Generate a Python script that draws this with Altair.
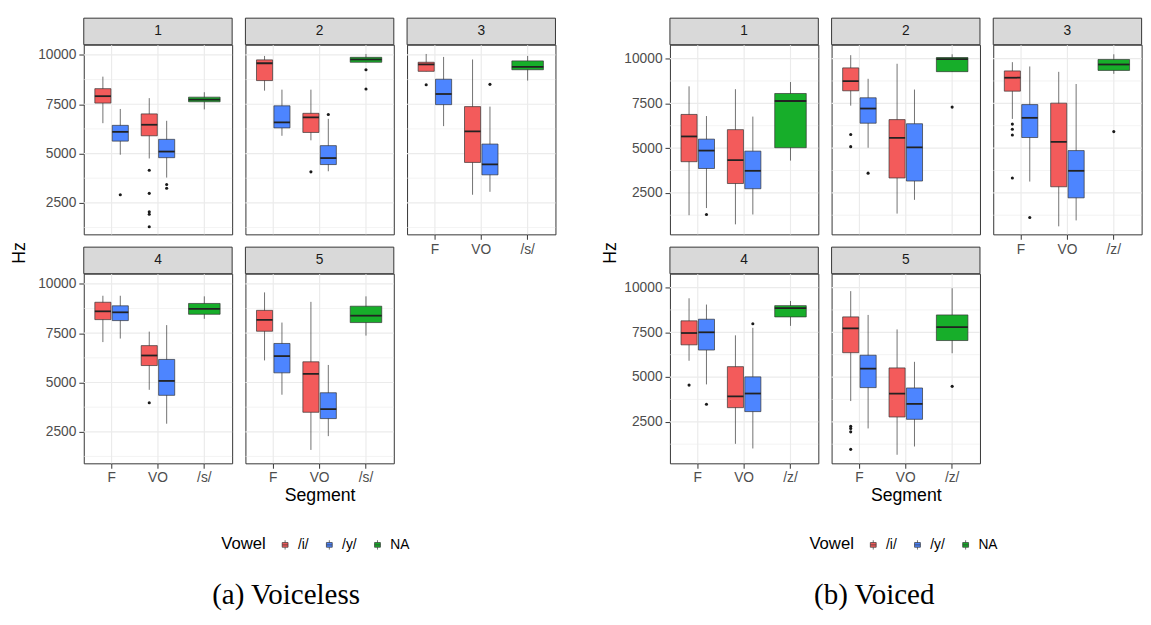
import altair as alt
import pandas as pd

# ---------------- data ----------------
SEGMENTS_VOICELESS = ["F", "VO", "/s/"]
SEGMENTS_VOICED = ["F", "VO", "/z/"]
VOWELS = ["/i/", "/y/", "NA"]
VOWEL_COLORS = ["#F35B5B", "#4D85FF", "#17AE2A"]
PANELS = ["1", "2", "3", "4", "5"]
MAJOR_TICKS = [2500, 5000, 7500, 10000]
MINOR_TICKS = [1250, 3750, 6250, 8750]
Y_DOMAIN_VOICELESS = [900, 10520]
Y_DOMAIN_VOICED = [180, 10775]

# (segment, vowel, lower whisker, Q1, median, Q3, upper whisker)
VOICELESS_1 = [("F", "/i/", 6540, 7560, 7910, 8290, 8900),
               ("F", "/y/", 4940, 5630, 6100, 6430, 7260),
               ("VO", "/i/", 4750, 5900, 6460, 7010, 7810),
               ("VO", "/y/", 3780, 4790, 5100, 5720, 6660),
               ("/s/", "NA", 7240, 7625, 7740, 7860, 8110)]
VOICELESS_2 = [("F", "/i/", 8190, 8700, 9580, 9750, 9950),
               ("F", "/y/", 5900, 6300, 6580, 7420, 8240),
               ("VO", "/i/", 5670, 6070, 6840, 7040, 8240),
               ("VO", "/y/", 4100, 4440, 4770, 5400, 6760),
               ("/s/", "NA", 9630, 9630, 9770, 9880, 10050)]
VOICELESS_3 = [("F", "/i/", 9170, 9170, 9520, 9630, 10050),
               ("F", "/y/", 6390, 7480, 8020, 8770, 9900),
               ("VO", "/i/", 2910, 4550, 6120, 7380, 9770),
               ("VO", "/y/", 3060, 3920, 4450, 5480, 7380),
               ("/s/", "NA", 8700, 9250, 9400, 9700, 9950)]
VOICELESS_4 = [("F", "/i/", 7050, 8190, 8610, 9070, 9400),
               ("F", "/y/", 7230, 8140, 8560, 8890, 9400),
               ("VO", "/i/", 4630, 5860, 6370, 6870, 7580),
               ("VO", "/y/", 2910, 4350, 5080, 6170, 7910),
               ("/s/", "NA", 8230, 8460, 8740, 9010, 9370)]
VOICELESS_5 = [("F", "/i/", 6120, 7600, 8180, 8660, 9570),
               ("F", "/y/", 4380, 5490, 6340, 6980, 8040),
               ("VO", "/i/", 1580, 3490, 5440, 6050, 9090),
               ("VO", "/y/", 2280, 3170, 3650, 4480, 5890),
               ("/s/", "NA", 7380, 8040, 8390, 8870, 9370)]
# (panel, segment, vowel, value)
VOICELESS_OUTLIERS = [("1", "F", "/y/", 2910),
                      ("1", "VO", "/i/", 4150), ("1", "VO", "/i/", 2980),
                      ("1", "VO", "/i/", 2050), ("1", "VO", "/i/", 1920),
                      ("1", "VO", "/i/", 1290),
                      ("1", "VO", "/y/", 3430), ("1", "VO", "/y/", 3240),
                      ("2", "VO", "/i/", 4070), ("2", "VO", "/y/", 6980),
                      ("2", "/s/", "NA", 9250), ("2", "/s/", "NA", 8270),
                      ("3", "F", "/i/", 8490), ("3", "VO", "/y/", 8510),
                      ("4", "VO", "/i/", 3970)]

VOICED_1 = [("F", "/i/", 1250, 4240, 5650, 6880, 8450),
            ("F", "/y/", 1650, 3860, 4860, 5500, 6790),
            ("VO", "/i/", 740, 3020, 4330, 6030, 8290),
            ("VO", "/y/", 1290, 2730, 3730, 4830, 6760),
            ("/z/", "NA", 4300, 5020, 7630, 8050, 8690)]
VOICED_2 = [("F", "/i/", 7370, 8200, 8740, 9480, 10190),
            ("F", "/y/", 5020, 6390, 7210, 7810, 8870),
            ("VO", "/i/", 1340, 3330, 5570, 6590, 9710),
            ("VO", "/y/", 2110, 3160, 5040, 6360, 8270),
            ("/z/", "NA", 9270, 9270, 9970, 10060, 10240)]
VOICED_3 = [("F", "/i/", 6630, 8180, 8930, 9310, 9800),
            ("F", "/y/", 3130, 5590, 6690, 7430, 9560),
            ("VO", "/i/", 630, 2840, 5350, 7510, 9260),
            ("VO", "/y/", 960, 2220, 3730, 4860, 8580),
            ("/z/", "NA", 9150, 9340, 9670, 9950, 10240)]
VOICED_4 = [("F", "/i/", 5910, 6800, 7460, 8140, 9400),
            ("F", "/y/", 4590, 6510, 7500, 8230, 9050),
            ("VO", "/i/", 1270, 3290, 3920, 5580, 7330),
            ("VO", "/y/", 1010, 3070, 4080, 5010, 7750),
            ("/z/", "NA", 7860, 8360, 8850, 8990, 9250)]
VOICED_5 = [("F", "/i/", 3660, 6360, 7720, 8360, 9800),
            ("F", "/y/", 2130, 4410, 5470, 6220, 8470),
            ("VO", "/i/", 660, 2770, 4080, 5510, 7660),
            ("VO", "/y/", 1120, 2640, 3500, 4390, 5850),
            ("/z/", "NA", 6330, 7040, 7790, 8470, 9960)]
VOICED_OUTLIERS = [("1", "F", "/y/", 1290),
                   ("2", "F", "/i/", 5760), ("2", "F", "/i/", 5080),
                   ("2", "F", "/y/", 3600), ("2", "/z/", "NA", 7290),
                   ("3", "F", "/i/", 6340), ("3", "F", "/i/", 6050),
                   ("3", "F", "/i/", 5730), ("3", "F", "/i/", 3330),
                   ("3", "F", "/y/", 1120), ("3", "/z/", "NA", 5920),
                   ("4", "F", "/i/", 4550), ("4", "F", "/y/", 3480),
                   ("4", "VO", "/y/", 7980),
                   ("5", "F", "/i/", 2250), ("5", "F", "/i/", 2130),
                   ("5", "F", "/i/", 1940), ("5", "F", "/i/", 960),
                   ("5", "/z/", "NA", 4480)]

# ---------------- styling / layout ----------------
FONT = "Liberation Sans"
W, H, STRIP = 151, 193, 27
BOX_EDGE = "#333333"
GRID = "#EBEBEB"
LEGEND_PATH = ("M-0.35,-0.28H0.35V0.28H-0.35Z M-0.35,0H0.35 "
               "M0,-0.28V-0.56 M0,0.28V0.56")


def boxes_frame(panel_lists):
    rows = []
    for p, lst in zip(PANELS, panel_lists):
        for seg, v, lo, q1, med, q3, hi in lst:
            rows.append(dict(panel=p, segment=seg, vowel=v, lo=lo, q1=q1,
                             med=med, q3=q3, hi=hi))
    return pd.DataFrame(rows)


def outliers_frame(lst):
    return pd.DataFrame(lst, columns=["panel", "segment", "vowel", "value"])


def make_legend(lx, ly):
    return alt.Legend(orient="none", legendX=lx, legendY=ly,
                      direction="horizontal", title="Vowel",
                      titleOrient="left", titleFontSize=17,
                      titleFontWeight="normal", titleColor="black",
                      titleFont=FONT, titlePadding=10,
                      labelFont=FONT, labelFontSize=14, labelColor="black",
                      labelOffset=4, columnPadding=12,
                      symbolType=LEGEND_PATH, symbolSize=289,
                      symbolStrokeColor=BOX_EDGE, symbolStrokeWidth=0.7)


def make_panel(p, boxes, outs, segs, ydom, legend, show_y, show_x, x_title):
    xscale = alt.Scale(domain=segs, paddingInner=0, paddingOuter=0.1)
    yscale = alt.Scale(domain=ydom, nice=False, zero=False)
    offscale = alt.Scale(domain=["/i/", "/y/"], paddingInner=0.075,
                         paddingOuter=0.37)
    fillscale = alt.Scale(domain=VOWELS, range=VOWEL_COLORS)

    if show_y:
        yaxis = alt.Axis(values=MAJOR_TICKS, format="d", title=None,
                         grid=False, domain=False, tickColor=BOX_EDGE,
                         tickSize=5, labelPadding=3, labelFont=FONT,
                         labelFontSize=14, labelColor="#4D4D4D")
    else:
        yaxis = None
    if show_x:
        xaxis = alt.Axis(title=x_title if x_title else None, labelAngle=0,
                         bandPosition=0.5, grid=False, domain=False,
                         tickColor=BOX_EDGE, tickSize=5, labelPadding=3,
                         labelFont=FONT, labelFontSize=14,
                         labelColor="#4D4D4D", titleFont=FONT,
                         titleFontSize=18, titleFontWeight="normal",
                         titleColor="black", titlePadding=2)
    else:
        xaxis = None

    def Y(field):
        return alt.Y(field, scale=yscale, axis=yaxis)

    b = boxes[boxes.panel == p]
    o = outs[outs.panel == p]
    dod, single = b[b.vowel != "NA"], b[b.vowel == "NA"]
    odod, osingle = o[o.vowel != "NA"], o[o.vowel == "NA"]

    xenc = alt.X("segment:N", scale=xscale, axis=xaxis)
    xoff = alt.XOffset("vowel:N", scale=offscale)
    fill = alt.Fill("vowel:N", scale=fillscale, legend=legend)

    layers = [
        alt.Chart(pd.DataFrame({"v": MINOR_TICKS})).mark_rule(
            color=GRID, strokeWidth=0.6).encode(y=Y("v:Q")),
        alt.Chart(pd.DataFrame({"v": MAJOR_TICKS})).mark_rule(
            color=GRID, strokeWidth=1.2).encode(y=Y("v:Q")),
        alt.Chart(pd.DataFrame({"segment": segs})).mark_rule(
            color=GRID, strokeWidth=1.2).encode(x=xenc),
        # dodged /i/ and /y/ boxes
        alt.Chart(dod).mark_rule(color=BOX_EDGE, strokeWidth=0.7).encode(
            x=xenc, xOffset=xoff, y=Y("lo:Q"), y2="hi:Q"),
        alt.Chart(dod).mark_bar(stroke=BOX_EDGE, strokeWidth=0.7).encode(
            x=xenc, xOffset=xoff, y=Y("q1:Q"), y2="q3:Q", fill=fill),
        alt.Chart(dod).mark_tick(orient="horizontal", size=16.4,
                                 thickness=1.8, color="#222222",
                                 opacity=1).encode(
            x=xenc, xOffset=xoff, y=Y("med:Q")),
        # single (NA) box
        alt.Chart(single).mark_rule(color=BOX_EDGE, strokeWidth=0.7).encode(
            x=xenc, y=Y("lo:Q"), y2="hi:Q"),
        alt.Chart(single).mark_bar(stroke=BOX_EDGE, strokeWidth=0.7,
                                   width=alt.RelativeBandSize(0.68)).encode(
            x=xenc, y=Y("q1:Q"), y2="q3:Q", fill=fill),
        alt.Chart(single).mark_tick(orient="horizontal", size=32,
                                    thickness=1.8, color="#222222",
                                    opacity=1).encode(
            x=xenc, y=Y("med:Q")),
    ]
    if len(odod):
        layers.append(alt.Chart(odod).mark_circle(
            size=10, color="#1A1A1A", opacity=1).encode(
            x=xenc, xOffset=xoff, y=Y("value:Q")))
    if len(osingle):
        layers.append(alt.Chart(osingle).mark_circle(
            size=10, color="#1A1A1A", opacity=1).encode(
            x=xenc, y=Y("value:Q")))
    strip = pd.DataFrame({"lab": [p]})
    layers.append(alt.Chart(strip).mark_rect(
        fill="#D9D9D9", stroke=BOX_EDGE, strokeWidth=1).encode(
        x=alt.value(0), x2=alt.value(W), y=alt.value(-STRIP), y2=alt.value(0)))
    layers.append(alt.Chart(strip).mark_text(
        font=FONT, fontSize=14, color="#1A1A1A", baseline="middle",
        align="center").encode(
        text="lab:N", x=alt.value(W / 2), y=alt.value(-STRIP / 2)))
    return alt.layer(*layers).properties(
        width=W, height=H,
        view=alt.ViewBackground(stroke=BOX_EDGE, strokeWidth=1))


def make_figure(panel_lists, outlier_list, segs, ydom, legend_xy, s1,
                caption, cap_x):
    boxes = boxes_frame(panel_lists)
    outs = outliers_frame(outlier_list)
    leg = make_legend(*legend_xy)
    pn = {}
    for p in PANELS:
        pn[p] = make_panel(p, boxes, outs, segs, ydom, leg,
                           show_y=p in ("1", "4"),
                           show_x=p in ("3", "4", "5"),
                           x_title="Segment" if p == "5" else "")
    col1 = alt.vconcat(pn["1"], pn["4"], spacing=10)
    col2 = alt.vconcat(pn["2"], pn["5"], spacing=10)
    grid = alt.hconcat(col1, col2, pn["3"], spacing=9.5)
    ytitle = alt.Chart(pd.DataFrame({"t": ["Hz"]})).mark_text(
        font=FONT, fontSize=18, color="black", angle=270,
        align="center", baseline="middle").encode(
        text="t:N", x=alt.value(12), y=alt.value(212)).properties(
        width=20, height=420)
    row = alt.hconcat(ytitle, grid, spacing=s1)
    cap = alt.Chart(pd.DataFrame({"t": [caption]})).mark_text(
        font="Liberation Serif", fontSize=29.5, color="black",
        align="center", baseline="alphabetic").encode(
        text="t:N", x=alt.value(cap_x), y=alt.value(31)).properties(
        width=10, height=38)
    return alt.vconcat(row, cap, spacing=69)


fig_a = make_figure([VOICELESS_1, VOICELESS_2, VOICELESS_3, VOICELESS_4,
                     VOICELESS_5], VOICELESS_OUTLIERS, SEGMENTS_VOICELESS,
                    Y_DOMAIN_VOICELESS, (217, 500), 8.1,
                    "(a) Voiceless", 283)
fig_b = make_figure([VOICED_1, VOICED_2, VOICED_3, VOICED_4, VOICED_5],
                    VOICED_OUTLIERS, SEGMENTS_VOICED, Y_DOMAIN_VOICED,
                    (214, 500), 3.1, "(b) Voiced", 280)

chart = alt.hconcat(fig_a, fig_b, spacing=42.5).resolve_scale(
    fill="independent").properties(
    padding={"left": 0, "top": 4, "right": 0, "bottom": 0}
).configure(font=FONT).configure_view(stroke=None)

chart.save("out.html", embed_options={"renderer": "svg", "actions": False})
